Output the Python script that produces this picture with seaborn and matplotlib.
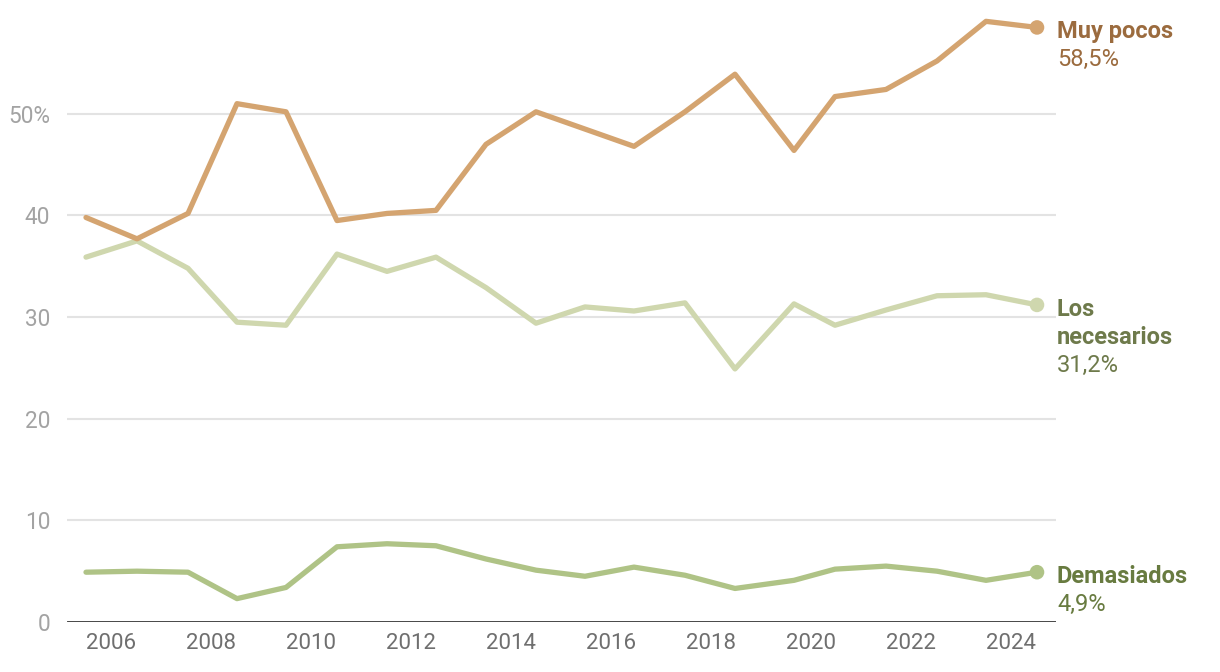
import matplotlib
matplotlib.use("Agg")
import matplotlib.pyplot as plt
import seaborn as sns
import pandas as pd

# Data
fechas = [2005.5, 2006.52, 2007.54, 2008.52, 2009.5, 2010.52, 2011.52, 2012.5, 2013.5, 2014.5,
          2015.48, 2016.46, 2017.48, 2018.48, 2019.66, 2020.48, 2021.5, 2022.52, 2023.5, 2024.52]
muy_pocos = [39.8, 37.7, 40.2, 51.0, 50.2, 39.5, 40.2, 40.5, 47.0, 50.2,
             48.5, 46.8, 50.2, 53.9, 46.4, 51.7, 52.4, 55.2, 59.1, 58.5]
los_necesarios = [35.9, 37.5, 34.8, 29.5, 29.2, 36.2, 34.5, 35.9, 32.9, 29.4,
                  31.0, 30.6, 31.4, 24.9, 31.3, 29.2, 30.7, 32.1, 32.2, 31.2]
demasiados = [4.9, 5.0, 4.9, 2.3, 3.4, 7.4, 7.7, 7.5, 6.2, 5.1,
              4.5, 5.4, 4.6, 3.3, 4.1, 5.2, 5.5, 5.0, 4.1, 4.9]
series = ["Muy pocos", "Los necesarios", "Demasiados"]
etiquetas = [["Muy pocos"], ["Los", "necesarios"], ["Demasiados"]]
valores_finales = ["58,5%", "31,2%", "4,9%"]
x_ticks = [2006, 2008, 2010, 2012, 2014, 2016, 2018, 2020, 2022, 2024]
y_ticks = [0, 10, 20, 30, 40, 50]
y_labels = ["0", "10", "20", "30", "40", "50%"]

line_colors = {"Muy pocos": "#d4a470", "Los necesarios": "#cfd7ae", "Demasiados": "#afc386"}
text_colors = {"Muy pocos": "#9b6b3e", "Los necesarios": "#6e7a4b", "Demasiados": "#687b40"}

df = pd.DataFrame({
    "fecha": fechas * 3,
    "valor": muy_pocos + los_necesarios + demasiados,
    "serie": [s for s in series for _ in fechas],
})

sns.set_theme(style="white")
plt.rcParams["font.family"] = ["Roboto", "DejaVu Sans"]

fig = plt.figure(figsize=(12.2, 6.72), dpi=100)
ax = fig.add_axes([67 / 1220, 50 / 672, (1056 - 67) / 1220, 622 / 672])

for y in y_ticks[1:]:
    ax.axhline(y, color="#e3e3e3", lw=1.5, zorder=0)

sns.lineplot(data=df, x="fecha", y="valor", hue="serie", palette=line_colors,
             hue_order=series[::-1], linewidth=3.8, legend=False, ax=ax, zorder=3)

ax.axhline(0, color="#111111", lw=1.8, zorder=4)

last = df[df["fecha"] == fechas[-1]]
sns.scatterplot(data=last, x="fecha", y="valor", hue="serie", palette=line_colors,
                s=110, edgecolor="none", legend=False, ax=ax, zorder=5)

ax.set_xlim(2005.12, 2024.9)
ax.set_ylim(0, 61.2)
ax.set_xticks(x_ticks)
ax.set_xticklabels([str(t) for t in x_ticks])
ax.set_yticks(y_ticks)
ax.set_yticklabels(y_labels)
ax.tick_params(axis="x", length=0, pad=8, labelsize=16, labelcolor="#6f6f6f")
ax.tick_params(axis="y", length=0, pad=12, labelsize=16.3, labelcolor="#a3a3a3")
for s in ax.spines.values():
    s.set_visible(False)
ax.set_xlabel("")
ax.set_ylabel("")

ends = [muy_pocos[-1], los_necesarios[-1], demasiados[-1]]
step = 20.2
for serie, lines, val, yv in zip(series, etiquetas, valores_finales, ends):
    c = text_colors[serie]
    k = 0
    for ln in lines:
        ax.annotate(ln, xy=(fechas[-1], yv), xytext=(14.4, -3 - step * k),
                    textcoords="offset points", ha="left", va="center",
                    fontsize=17, fontweight="bold", color=c, annotation_clip=False)
        k += 1
    ax.annotate(val, xy=(fechas[-1], yv), xytext=(14.4, -3 - step * k),
                textcoords="offset points", ha="left", va="center",
                fontsize=17, color=c, annotation_clip=False)

fig.savefig("out.png", dpi=100)
